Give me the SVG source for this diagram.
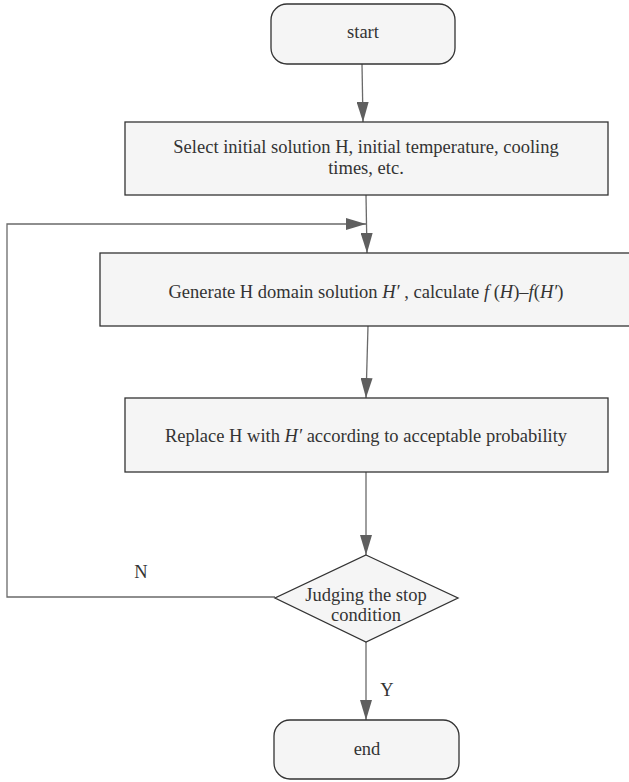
<svg xmlns="http://www.w3.org/2000/svg" width="629" height="782" viewBox="0 0 629 782">
<style>
.box{fill:#f5f5f5;stroke:#333;stroke-width:1.3}
.t{font-family:'Liberation Serif','DejaVu Serif',serif;font-size:18.5px;fill:#333;text-anchor:middle}
.i{font-style:italic}
.c{fill:none;stroke:#6a6a6a;stroke-width:1.3}
</style>
<defs>
<marker id="ah" viewBox="0 0 20 12" refX="20" refY="6" markerWidth="20" markerHeight="12" markerUnits="userSpaceOnUse" orient="auto">
<path d="M0,0 L20,6 L0,12 z" fill="#5f5f5f"/>
</marker>
</defs>
<rect width="629" height="782" fill="#fff"/>
<g id="connectors">
<path class="c" d="M362,64 L363,122" marker-end="url(#ah)"/>
<path class="c" d="M366,195 L367,253" marker-end="url(#ah)"/>
<path class="c" d="M368,326 L366,398" marker-end="url(#ah)"/>
<path class="c" d="M366,472 L366,555" marker-end="url(#ah)"/>
<path class="c" d="M366,642 L366,720" marker-end="url(#ah)"/>
<path class="c" d="M275,597 L7,597 L7,224 L366,224" marker-end="url(#ah)"/>
<text class="t" x="141" y="578">N</text>
<text class="t" x="387" y="696">Y</text>
</g>
<g id="start">
<rect class="box" x="271" y="4" width="184" height="60" rx="16"/>
<text class="t" x="363" y="38">start</text>
</g>
<g id="init">
<rect class="box" x="125" y="122" width="483" height="73"/>
<text class="t" x="366" y="153">Select initial solution H, initial temperature, cooling</text>
<text class="t" x="366" y="174">times, etc.</text>
</g>
<g id="generate">
<rect class="box" x="100" y="253" width="534" height="73"/>
<text class="t" x="366" y="298">Generate H domain solution <tspan class="i">H′</tspan> , calculate <tspan class="i">f</tspan> (<tspan class="i">H</tspan>)–<tspan class="i">f</tspan>(<tspan class="i">H′</tspan>)</text>
</g>
<g id="replace">
<rect class="box" x="125" y="398" width="483" height="74"/>
<text class="t" x="366" y="442">Replace H with <tspan class="i">H′</tspan> according to acceptable probability</text>
</g>
<g id="judge">
<path class="box" d="M366,555 L458,598 L366,642 L275,598 z"/>
<text class="t" x="366" y="601">Judging the stop</text>
<text class="t" x="366" y="621">condition</text>
</g>
<g id="end">
<rect class="box" x="274" y="720" width="185" height="59" rx="16"/>
<text class="t" x="367" y="755">end</text>
</g>
</svg>
